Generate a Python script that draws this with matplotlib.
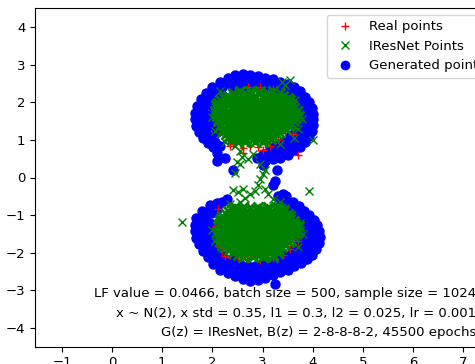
import matplotlib
matplotlib.use("Agg")
import matplotlib.pyplot as plt
from matplotlib.lines import Line2D
from matplotlib.ticker import MultipleLocator
import numpy as np

# --- real samples (red +) ---
real_top = [
    (2.15, 1.7), (2.1, 1.45), (2.2, 1.2), (2.3, 1.0), (2.4, 0.9), (2.55, 0.95),
    (2.6, 0.78), (2.75, 0.85), (2.9, 0.8), (3.05, 0.9), (3.15, 0.85), (3.3, 1.0),
    (3.45, 1.25), (3.55, 1.45), (3.5, 1.7), (3.45, 1.95), (3.35, 2.2), (3.2, 2.35),
    (2.95, 2.4), (2.7, 2.4), (2.45, 2.3), (2.25, 2.1), (2.1, 1.9), (3.7, 0.6),
    (3.6, 1.15), (2.8, 1.6), (2.6, 1.4), (3.0, 1.3), (2.5, 2.0), (3.1, 1.9),
    (2.35, 0.85), (3.0, 0.72), (2.41, 0.93), (2.61, 0.66),
]
real_bottom = [
    (2.12, -0.83), (2.29, -0.96), (2.45, -0.8), (2.7, -0.75), (3.0, -0.8),
    (3.3, -0.9), (3.5, -1.15), (3.6, -1.4), (3.71, -1.68), (3.55, -1.9),
    (3.4, -2.05), (3.2, -2.15), (2.95, -2.2), (2.7, -2.18), (2.5, -2.12),
    (2.35, -2.05), (2.2, -1.95), (2.12, -1.8), (2.25, -2.1), (2.1, -1.55),
    (2.08, -1.3), (2.15, -1.1), (2.85, -1.5), (3.1, -1.3), (2.6, -1.7),
    (3.3, -1.75), (2.4, -1.25),
]

# --- IResNet samples (green x): dense core rows + loose points ---
iresnet_top_rows = [
    (2.30, [2.55, 2.75, 2.95, 3.2]),
    (2.24, [2.4, 2.65, 2.9, 3.1, 3.35]),
    (2.18, [2.3, 2.45, 2.6, 2.72, 2.85, 3.0, 3.12, 3.28, 3.4]),
    (2.11, [2.22, 2.36, 2.5, 2.62, 2.75, 2.87, 3.0, 3.12, 3.25, 3.37, 3.5]),
    (2.05, [2.15, 2.28, 2.42, 2.55, 2.68, 2.8, 2.93, 3.05, 3.18, 3.3, 3.43, 3.55]),
    (1.98, [2.12, 2.26, 2.4, 2.52, 2.64, 2.77, 2.89, 3.02, 3.14, 3.27, 3.39, 3.52]),
    (1.92, [2.08, 2.2, 2.33, 2.46, 2.58, 2.7, 2.83, 2.95, 3.08, 3.2, 3.33, 3.45, 3.58]),
    (1.85, [2.1, 2.23, 2.36, 2.49, 2.61, 2.74, 2.86, 2.99, 3.11, 3.24, 3.36, 3.49, 3.62]),
    (1.78, [2.05, 2.17, 2.3, 2.42, 2.55, 2.67, 2.8, 2.92, 3.05, 3.17, 3.3, 3.42, 3.55, 3.68]),
    (1.71, [2.08, 2.2, 2.32, 2.45, 2.57, 2.7, 2.82, 2.95, 3.07, 3.2, 3.32, 3.45, 3.57, 3.66]),
    (1.64, [2.1, 2.22, 2.35, 2.47, 2.6, 2.72, 2.85, 2.97, 3.1, 3.22, 3.35, 3.47, 3.6, 3.72]),
    (1.57, [2.15, 2.28, 2.41, 2.54, 2.66, 2.79, 2.91, 3.04, 3.16, 3.29, 3.41, 3.54, 3.66]),
    (1.50, [2.12, 2.25, 2.37, 2.5, 2.62, 2.75, 2.87, 3.0, 3.12, 3.25, 3.37, 3.5, 3.62]),
    (1.43, [2.18, 2.31, 2.44, 2.56, 2.69, 2.81, 2.94, 3.06, 3.19, 3.31, 3.44, 3.56]),
    (1.36, [2.15, 2.28, 2.4, 2.53, 2.65, 2.78, 2.9, 3.03, 3.15, 3.28, 3.4, 3.52]),
    (1.29, [2.22, 2.35, 2.48, 2.6, 2.73, 2.86, 2.98, 3.11, 3.24, 3.36, 3.46]),
    (1.22, [2.2, 2.33, 2.45, 2.58, 2.7, 2.83, 2.95, 3.08, 3.2, 3.33]),
    (1.15, [2.26, 2.39, 2.52, 2.64, 2.77, 2.9, 3.02, 3.15, 3.28]),
    (1.08, [2.3, 2.45, 2.6, 2.72, 2.85, 2.97, 3.1, 3.22]),
    (1.02, [2.38, 2.53, 2.67, 2.8, 2.92, 3.05, 3.16]),
    (0.95, [2.5, 2.65, 2.85, 3.0]),
]
iresnet_bottom_rows = [
    (-0.78, [2.45, 2.6, 2.9, 3.1, 3.3]),
    (-0.84, [2.36, 2.5, 2.62, 2.75, 2.87, 3.0, 3.12, 3.25, 3.37]),
    (-0.90, [2.3, 2.42, 2.55, 2.68, 2.8, 2.93, 3.05, 3.18, 3.3, 3.42]),
    (-0.97, [2.26, 2.39, 2.52, 2.64, 2.77, 2.89, 3.02, 3.14, 3.27, 3.39, 3.5]),
    (-1.03, [2.2, 2.33, 2.45, 2.58, 2.7, 2.83, 2.95, 3.08, 3.2, 3.33, 3.45, 3.55]),
    (-1.10, [2.18, 2.3, 2.43, 2.55, 2.68, 2.8, 2.93, 3.05, 3.18, 3.3, 3.43, 3.55]),
    (-1.17, [2.15, 2.27, 2.4, 2.52, 2.65, 2.77, 2.9, 3.02, 3.15, 3.27, 3.4, 3.52, 3.62]),
    (-1.24, [2.14, 2.27, 2.4, 2.52, 2.65, 2.77, 2.9, 3.02, 3.15, 3.27, 3.4, 3.52, 3.64]),
    (-1.30, [2.12, 2.25, 2.37, 2.5, 2.62, 2.75, 2.87, 3.0, 3.12, 3.25, 3.37, 3.5, 3.62, 3.72]),
    (-1.37, [2.16, 2.29, 2.41, 2.54, 2.66, 2.79, 2.91, 3.04, 3.16, 3.29, 3.41, 3.54, 3.66]),
    (-1.44, [2.1, 2.22, 2.35, 2.47, 2.6, 2.72, 2.85, 2.97, 3.1, 3.22, 3.35, 3.47, 3.6, 3.7]),
    (-1.51, [2.16, 2.29, 2.41, 2.54, 2.66, 2.79, 2.91, 3.04, 3.16, 3.29, 3.41, 3.54, 3.66]),
    (-1.58, [2.12, 2.25, 2.37, 2.5, 2.62, 2.75, 2.87, 3.0, 3.12, 3.25, 3.37, 3.5, 3.62]),
    (-1.65, [2.18, 2.31, 2.43, 2.56, 2.68, 2.81, 2.93, 3.06, 3.18, 3.31, 3.43, 3.56]),
    (-1.72, [2.15, 2.28, 2.4, 2.53, 2.65, 2.78, 2.9, 3.03, 3.15, 3.28, 3.4, 3.52]),
    (-1.79, [2.2, 2.33, 2.46, 2.58, 2.71, 2.83, 2.96, 3.08, 3.21, 3.33, 3.45]),
    (-1.86, [2.25, 2.38, 2.5, 2.63, 2.75, 2.88, 3.0, 3.13, 3.25, 3.38]),
    (-1.93, [2.32, 2.45, 2.58, 2.7, 2.83, 2.95, 3.08, 3.2, 3.33]),
    (-2.00, [2.4, 2.55, 2.7, 2.85, 3.0, 3.15, 3.3]),
    (-2.06, [2.5, 2.64, 2.78, 2.92, 3.06, 3.2]),
    (-2.12, [2.6, 2.8, 3.0, 3.2]),
]
iresnet_loose = [
    (2.45, 0.85), (2.55, 0.7), (2.58, 0.55), (2.48, 0.42), (2.7, 0.5), (2.8, 0.62),
    (3.45, 2.45), (3.55, 2.6), (3.38, 2.55), (3.65, 2.05), (3.72, 1.8), (3.78, 1.55),
    (3.7, 1.3), (3.62, 1.05), (4.0, 1.0), (2.05, 1.25), (2.0, 1.6), (2.15, 2.3),
    (2.25, 0.95), (3.35, 0.9), (2.95, 0.35), (3.05, 0.2), (2.55, 0.37), (2.45, 0.13),
    (3.0, 0.1), (2.95, -0.05), (2.9, -0.2), (3.05, -0.3), (2.85, -0.35), (2.75, -0.45),
    (2.6, -0.3), (2.5, -0.38), (2.4, -0.32), (2.65, -0.55), (2.55, -0.65), (3.1, -0.45),
    (3.2, -0.58), (3.35, -0.65), (3.45, -0.8), (2.35, -0.7), (3.93, -0.35),
    (1.39, -1.19), (3.75, -1.2), (3.8, -1.5), (3.7, -1.85), (2.0, -1.4), (2.05, -1.7),
]

# --- generated samples (blue o) ---
generated_top = [
    # outer edge
    (2.45, 2.72), (2.6, 2.75), (2.75, 2.73), (2.9, 2.7), (3.05, 2.65), (3.2, 2.62),
    (3.35, 2.55), (3.5, 2.5), (3.62, 2.4), (3.75, 2.3), (3.85, 2.15), (3.93, 2.0),
    (3.98, 1.85), (4.0, 1.7), (4.0, 1.55), (4.0, 1.4), (3.98, 1.25), (3.93, 1.1),
    (3.85, 0.95), (3.75, 0.82), (3.62, 0.72), (3.5, 0.6), (3.35, 0.52), (3.2, 0.48),
    (3.05, 0.45), (2.89, 0.53), (2.3, 2.65), (2.15, 2.55), (2.0, 2.42), (1.88, 2.25),
    (1.78, 2.08), (1.7, 1.9), (1.65, 1.72), (1.65, 1.55), (1.68, 1.38), (1.73, 1.2),
    (1.82, 1.05), (1.92, 0.92), (2.02, 0.8), (2.09, 0.66), (2.09, 0.45), (2.25, 0.53),
    (2.41, 0.2),
    # inner layers
    (2.35, 2.5), (2.5, 2.55), (2.65, 2.58), (2.8, 2.55), (2.95, 2.52), (3.1, 2.48),
    (3.25, 2.42), (3.4, 2.35), (3.55, 2.25), (3.68, 2.1), (3.78, 1.95), (3.82, 1.8),
    (3.85, 1.62), (3.85, 1.45), (3.82, 1.28), (3.78, 1.12), (3.68, 0.98), (3.55, 0.85),
    (3.4, 0.72), (3.25, 0.66), (3.1, 0.62), (3.4, 0.95), (3.55, 1.1), (3.65, 1.25),
    (3.25, 0.85), (2.2, 2.4), (2.05, 2.25), (1.95, 2.1), (1.85, 1.92), (1.82, 1.75),
    (1.8, 1.58), (1.82, 1.4), (1.88, 1.22), (1.95, 1.08), (2.05, 0.95), (2.15, 0.85),
    (2.0, 1.5), (2.0, 1.9), (2.2, 2.2), (2.4, 2.35), (2.6, 2.4), (2.8, 2.4),
    (3.0, 2.38), (3.2, 2.3), (3.4, 2.2), (3.55, 2.05), (3.65, 1.9), (3.7, 1.7),
    (3.7, 1.5), (3.68, 1.35), (3.5, 0.75), (3.6, 0.95), (3.7, 1.1), (3.45, 0.85),
    (3.3, 0.75), (3.15, 0.72), (3.0, 0.62), (2.1, 2.0), (2.05, 1.7), (2.05, 1.35),
    (2.1, 1.2), (1.92, 1.4), (1.9, 1.65), (1.9, 2.0), (2.12, 2.35), (2.3, 2.55),
    (2.7, 2.62), (3.0, 2.6), (3.3, 2.5), (3.5, 2.38), (3.7, 2.2), (3.9, 1.7),
    (3.92, 1.5), (3.9, 1.3), (3.8, 1.0), (3.65, 0.85),
    # trail between the two modes
    (3.0, 0.32), (3.29, 0.19), (3.25, -0.08), (3.21, -0.21), (3.41, -0.43),
]
generated_bottom = [
    # outer edge
    (2.09, -0.69), (2.29, -0.56), (1.95, -0.72), (1.8, -0.9), (1.68, -1.07),
    (1.65, -1.25), (1.65, -1.42), (1.68, -1.6), (1.74, -1.78), (1.82, -1.95),
    (1.92, -2.12), (2.02, -2.3), (2.15, -2.45), (2.3, -2.55), (2.45, -2.63),
    (2.6, -2.7), (2.75, -2.75), (2.9, -2.72), (3.05, -2.68), (3.2, -2.6),
    (3.25, -2.82), (3.35, -2.52), (3.5, -2.45), (3.63, -2.36), (3.76, -2.27),
    (3.88, -2.17), (3.98, -2.05), (4.07, -1.9), (4.12, -1.75), (4.14, -1.58),
    (4.12, -1.42), (4.08, -1.27), (4.02, -1.13), (3.93, -1.0), (3.83, -0.88),
    (3.72, -0.76), (3.6, -0.64), (3.47, -0.5), (3.3, -0.5),
    # inner layers
    (1.85, -1.1), (1.82, -1.3), (1.83, -1.5), (1.87, -1.7), (1.95, -1.88),
    (2.05, -2.05), (2.18, -2.22), (2.32, -2.35), (2.47, -2.45), (2.62, -2.52),
    (2.78, -2.55), (2.93, -2.52), (3.08, -2.45), (3.22, -2.38), (3.36, -2.3),
    (3.5, -2.2), (3.63, -2.1), (3.75, -1.98), (3.86, -1.84), (3.94, -1.68),
    (3.97, -1.52), (3.95, -1.37), (3.9, -1.22), (3.82, -1.08), (3.72, -0.95),
    (3.6, -0.83), (3.48, -0.72), (1.98, -0.95), (2.1, -0.85), (2.4, -2.2),
    (2.55, -2.3), (2.7, -2.35), (2.85, -2.35), (3.0, -2.3), (3.15, -2.25),
    (3.3, -2.15), (3.45, -2.05), (3.6, -1.9), (3.72, -1.75), (3.8, -1.6),
    (3.78, -1.45), (2.2, -2.05), (2.05, -1.85), (1.95, -1.6),
    (1.8, -1.2), (1.75, -1.45), (1.78, -1.65), (1.85, -1.85), (1.95, -2.0),
    (2.1, -2.2), (2.25, -2.4), (2.4, -2.5), (2.55, -2.6), (2.7, -2.62),
    (2.85, -2.65), (3.0, -2.6), (3.15, -2.55), (3.3, -2.42), (3.45, -2.35),
    (3.58, -2.25), (3.7, -2.15), (3.82, -2.05), (3.92, -1.9), (4.0, -1.75),
    (4.05, -1.6), (4.05, -1.42), (4.0, -1.25), (3.88, -1.3), (3.88, -1.5),
    (3.85, -1.7), (3.7, -1.25), (3.68, -1.55), (3.55, -2.05), (2.55, -2.45),
    (2.3, -2.25), (2.1, -1.95), (1.95, -1.4), (1.95, -1.2), (2.0, -0.8),
    (1.88, -0.95), (2.2, -0.65), (3.35, -0.6), (3.5, -0.65), (3.62, -0.75),
    (3.75, -0.9), (3.85, -1.05), (3.6, -1.0), (3.7, -1.1),
]

info_lines = [
    "LF value = 0.0466, batch size = 500, sample size = 1024",
    "x ~ N(2), x std = 0.35, l1 = 0.3, l2 = 0.025, lr = 0.001",
    "G(z) = IResNet, B(z) = 2-8-8-8-2, 45500 epochs",
]


def rows_to_points(rows):
    return np.array([(x, y) for y, xs in rows for x in xs])


real = np.array(real_top + real_bottom)
iresnet_core = np.vstack([rows_to_points(iresnet_top_rows),
                          rows_to_points(iresnet_bottom_rows)])
iresnet_out = np.array(iresnet_loose)
generated = np.array(generated_top + generated_bottom)

plt.rcParams["font.size"] = 9.5

fig = plt.figure(figsize=(4.75, 3.64), dpi=100)
ax = fig.add_axes([35 / 475, 17.3 / 364, 462 / 475, 338.4 / 364])

ax.plot(generated[:, 0], generated[:, 1], "bo", markersize=6.5)
ax.plot(real[:, 0], real[:, 1], "r+")
# the core is so dense in the samples that it renders as a solid patch
ax.plot(iresnet_core[:, 0], iresnet_core[:, 1], "gx", markersize=7.5,
        markeredgewidth=2.0)
ax.plot(iresnet_out[:, 0], iresnet_out[:, 1], "gx")

ax.set_xlim(-1.538, -1.538 + 462 / 50.16)
ax.set_ylim(-4.5, 4.5)
ax.xaxis.set_major_locator(MultipleLocator(1))
ax.yaxis.set_major_locator(MultipleLocator(1))

handles = [
    Line2D([], [], color="r", marker="+", linestyle="none", label="Real points"),
    Line2D([], [], color="g", marker="x", linestyle="none", label="IResNet Points"),
    Line2D([], [], color="b", marker="o", linestyle="none", label="Generated points"),
]
ax.legend(handles=handles, loc="upper right")

fig.text(476 / 475, 1 - 313 / 364, "\n".join(info_lines),
         ha="right", va="center", linespacing=1.65)

fig.savefig("out.png", dpi=100)
